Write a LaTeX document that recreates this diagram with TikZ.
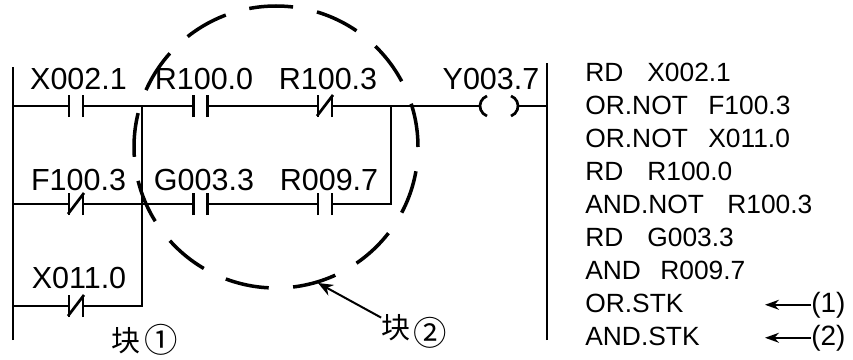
\documentclass[tikz,border=0pt]{standalone}
\usepackage{fontspec}
\setmainfont{Liberation Sans}
\newfontfamily\cjkfont{Noto Sans CJK SC}
\usetikzlibrary{arrows.meta}

\tikzset{
  wire/.style={line width=0.054cm},
  blockring/.style={line width=0.07cm, dash pattern=on 0.88cm off 0.488cm},
  contactlabel/.style={anchor=base, inner sep=0pt, font=\fontsize{17.35pt}{20pt}\selectfont},
  instr/.style={anchor=base west, inner sep=0pt, font=\fontsize{15pt}{17pt}\selectfont},
  stacknum/.style={anchor=base west, inner sep=0pt, font=\fontsize{15.9pt}{18pt}\selectfont},
  blocklabel/.style={anchor=base, inner sep=0pt, font=\fontsize{16.5pt}{18pt}\selectfont\cjkfont},
  blocknum/.style={anchor=base, inner sep=0pt, font=\fontsize{19pt}{21pt}\selectfont\cjkfont},
  pointer/.style={line width=0.04cm, -{Stealth[length=0.30cm,width=0.24cm]}},
  stackpointer/.style={line width=0.03cm, -{Stealth[length=0.28cm,width=0.2cm]}},
}

\begin{document}
\begin{tikzpicture}
        \useasboundingbox (0.000000,0.000000) rectangle (17.060000,7.180000);

        % Drawing rails
        \draw [wire] (0.260000,0.380000) -- (0.260000,5.840000);%
        \draw [wire] (10.940000,0.380000) -- (10.940000,5.920000);%

        % Drawing rung 1
        \draw [wire] (0.260000,5.060000) -- (1.380000,5.060000);%
        \draw [wire] (1.660000,5.060000) -- (3.870000,5.060000);%
        \draw [wire] (4.150000,5.060000) -- (6.360000,5.060000);%
        \draw [wire] (6.640000,5.060000) -- (9.600000,5.060000);%
        \draw [wire] (10.360000,5.060000) -- (10.940000,5.060000);%

        % Contact X002.1 (open)
        \draw [wire] (1.380000,4.840000) -- (1.380000,5.280000);%
        \draw [wire] (1.660000,4.840000) -- (1.660000,5.280000);%
        \draw (1.570000,5.400000) node [contactlabel] (x0021) {X002.1};%

        % Contact R100.0 (open)
        \draw [wire] (3.870000,4.840000) -- (3.870000,5.280000);%
        \draw [wire] (4.150000,4.840000) -- (4.150000,5.280000);%
        \draw (4.080000,5.400000) node [contactlabel] (r1000) {R100.0};%

        % Contact R100.3 (closed)
        \draw [wire] (6.360000,4.840000) -- (6.360000,5.280000);%
        \draw [wire] (6.640000,4.840000) -- (6.640000,5.280000);%
        \draw [wire] (6.340000,4.860000) -- (6.660000,5.280000);%
        \draw (6.560000,5.400000) node [contactlabel] (r1003) {R100.3};%

        % Coil Y003.7
        \draw [wire] (9.740000,5.260000) arc [start angle=110, end angle=250, radius=0.213];%
        \draw [wire] (10.220000,5.260000) arc [start angle=70, end angle=-70, radius=0.213];%
        \draw (9.820000,5.400000) node [contactlabel] (y0037) {Y003.7};%

        % Drawing rung 2
        \draw [wire] (0.260000,3.100000) -- (1.380000,3.100000);%
        \draw [wire] (1.660000,3.100000) -- (3.870000,3.100000);%
        \draw [wire] (4.150000,3.100000) -- (6.360000,3.100000);%
        \draw [wire] (6.640000,3.100000) -- (7.820000,3.100000) -- (7.820000,5.060000);%

        % Contact F100.3 (closed)
        \draw [wire] (1.380000,2.880000) -- (1.380000,3.320000);%
        \draw [wire] (1.660000,2.880000) -- (1.660000,3.320000);%
        \draw [wire] (1.360000,2.900000) -- (1.680000,3.320000);%
        \draw (1.570000,3.380000) node [contactlabel] (f1003) {F100.3};%

        % Contact G003.3 (open)
        \draw [wire] (3.870000,2.880000) -- (3.870000,3.320000);%
        \draw [wire] (4.150000,2.880000) -- (4.150000,3.320000);%
        \draw (4.080000,3.380000) node [contactlabel] (g0033) {G003.3};%

        % Contact R009.7 (open)
        \draw [wire] (6.360000,2.880000) -- (6.360000,3.320000);%
        \draw [wire] (6.640000,2.880000) -- (6.640000,3.320000);%
        \draw (6.580000,3.380000) node [contactlabel] (r0097) {R009.7};%

        % Drawing rung 3
        \draw [wire] (0.260000,1.060000) -- (1.380000,1.060000);%
        \draw [wire] (1.660000,1.060000) -- (2.840000,1.060000) -- (2.840000,5.060000);%

        % Contact X011.0 (closed)
        \draw [wire] (1.380000,0.840000) -- (1.380000,1.280000);%
        \draw [wire] (1.660000,0.840000) -- (1.660000,1.280000);%
        \draw [wire] (1.360000,0.860000) -- (1.680000,1.280000);%
        \draw (1.580000,1.420000) node [contactlabel] (x0110) {X011.0};%

        % Marking block 1
        \draw (2.520000,0.160000) node [blocklabel] (blk1) {块};%
        \draw (3.220000,0.140000) node [blocknum] (num1) {①};%

        % Marking block 2 by dashed ring
        \draw [blockring] (5.520000,4.240000) ellipse [x radius=2.84, y radius=2.82];%
        \coordinate (ring2tip) at (6.360000,1.520000);
        \draw (7.920000,0.420000) node [blocklabel] (blk2) {块};%
        \draw (8.600000,0.280000) node [blocknum] (num2) {②};%
        \draw [pointer] ([yshift=-0.080000cm]blk2.north west) -- (ring2tip);%

        % Writing instruction list
        \draw (11.700000,5.560000) node [instr] (op1) {RD};%
        \draw (12.940000,5.560000) node [instr] (arg1) {X002.1};%
        \draw (11.700000,4.900000) node [instr] (op2) {OR.NOT};%
        \draw (14.160000,4.900000) node [instr] (arg2) {F100.3};%
        \draw (11.700000,4.240000) node [instr] (op3) {OR.NOT};%
        \draw (14.160000,4.240000) node [instr] (arg3) {X011.0};%
        \draw (11.700000,3.580000) node [instr] (op4) {RD};%
        \draw (12.940000,3.580000) node [instr] (arg4) {R100.0};%
        \draw (11.700000,2.920000) node [instr] (op5) {AND.NOT};%
        \draw (14.540000,2.920000) node [instr] (arg5) {R100.3};%
        \draw (11.700000,2.260000) node [instr] (op6) {RD};%
        \draw (12.940000,2.260000) node [instr] (arg6) {G003.3};%
        \draw (11.700000,1.600000) node [instr] (op7) {AND};%
        \draw (13.200000,1.600000) node [instr] (arg7) {R009.7};%
        \draw (11.700000,0.940000) node [instr] (op8) {OR.STK};%
        \draw (11.700000,0.280000) node [instr] (op9) {AND.STK};%

        % Stack markers
        \draw (16.220000,0.940000) node [stacknum] (stk1) {(1)};%
        \draw (16.220000,0.280000) node [stacknum] (stk2) {(2)};%
        \coordinate (stk1tail) at (15.300000,1.080000);
        \coordinate (stk2tail) at (15.300000,0.420000);
        \draw [stackpointer] (stk1.west) -- (stk1.west -| stk1tail);%
        \draw [stackpointer] (stk2.west) -- (stk2.west -| stk2tail);%
\end{tikzpicture}
\end{document}
